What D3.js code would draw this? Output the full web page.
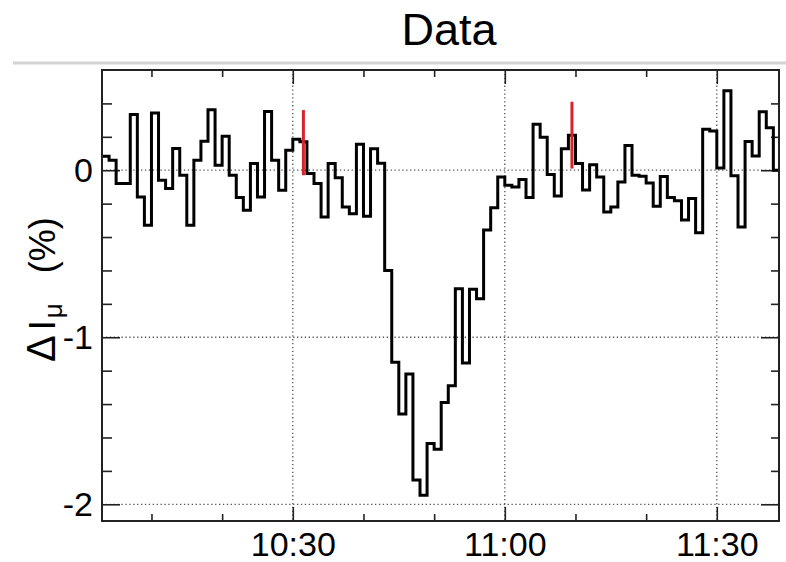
<!DOCTYPE html>
<html>
<head>
<meta charset="utf-8">
<script src="https://cdn.jsdelivr.net/npm/d3@7"></script>
<style>
  body { margin: 0; background: #fff; }
  text { font-family: "Liberation Sans", Arial, Helvetica, sans-serif; }
</style>
</head>
<body>
<div class="chart"></div>
<script>
// one-minute bins (start time of each bin) and the relative change in %
var times = [
  '10:03','10:04','10:05','10:06','10:07','10:08','10:09','10:10','10:11','10:12',
  '10:13','10:14','10:15','10:16','10:17','10:18','10:19','10:20','10:21','10:22',
  '10:23','10:24','10:25','10:26','10:27','10:28','10:29','10:30','10:31','10:32',
  '10:33','10:34','10:35','10:36','10:37','10:38','10:39','10:40','10:41','10:42',
  '10:43','10:44','10:45','10:46','10:47','10:48','10:49','10:50','10:51','10:52',
  '10:53','10:54','10:55','10:56','10:57','10:58','10:59','11:00','11:01','11:02',
  '11:03','11:04','11:05','11:06','11:07','11:08','11:09','11:10','11:11','11:12',
  '11:13','11:14','11:15','11:16','11:17','11:18','11:19','11:20','11:21','11:22',
  '11:23','11:24','11:25','11:26','11:27','11:28','11:29','11:30','11:31','11:32',
  '11:33','11:34','11:35','11:36','11:37','11:38'
];
var values = [
  0.084, 0.06, -0.08, -0.08, 0.334, -0.16, -0.33, 0.342, -0.06, -0.11,
  0.13, -0.03, -0.33, 0.06, 0.173, 0.362, 0.03, 0.203, -0.03, -0.163,
  -0.239, 0.04, -0.16, 0.352, 0.06, -0.12, 0.12, 0.185, 0.17, -0.02,
  -0.08, -0.28, 0.04, -0.045, -0.22, -0.26, 0.155, -0.275, 0.128, 0.042,
  -0.60, -1.15, -1.46, -1.22, -1.855, -1.946, -1.636, -1.67, -1.39, -1.29,
  -0.71, -1.154, -0.712, -0.77, -0.358, -0.225, -0.04, -0.09, -0.1, -0.056,
  -0.163, 0.275, 0.198, -0.025, -0.155, 0.128, 0.21, 0.04, -0.118, 0.033,
  -0.04, -0.25, -0.22, -0.07, 0.148, -0.03, -0.036, -0.076, -0.215, -0.038,
  -0.163, -0.183, -0.298, -0.17, -0.374, 0.245, 0.235, 0.013, 0.476, -0.033,
  -0.34, 0.172, 0.085, 0.35, 0.254, 0.0
];
var lastBinEnd = '11:39';

// red event markers
var markerTimes = ['10:31:30', '11:09:30'];
var markerTop = [0.36, 0.41];
var markerBottom = [-0.03, 0.01];

// axes
var xDomain = ['10:03:00', '11:38:48'];
var yDomain = [-2.1, 0.6];
var xMajor = ['10:30', '11:00', '11:30'];
var xMinor = ['10:10', '10:20', '10:40', '10:50', '11:10', '11:20'];
var yMajor = [-2, -1, 0];
var yMinor = [-1.8, -1.6, -1.4, -1.2, -0.8, -0.6, -0.4, -0.2, 0.2, 0.4];

var title = 'Data';

var W = 786, H = 562,
  plot = { left: 102, right: 779, top: 70, bottom: 521 };

var parseT = function(s) {
  return d3.timeParse(s.length > 5 ? '%H:%M:%S' : '%H:%M')(s);
};
var fmt = d3.timeFormat('%H:%M');

var svg = d3.select('.chart')
  .append('svg')
    .attr('width', W)
    .attr('height', H);

var x = d3.scaleTime()
  .domain(xDomain.map(parseT))
  .range([plot.left, plot.right]);

var y = d3.scaleLinear()
  .domain(yDomain)
  .range([plot.bottom, plot.top]);

// title and the grey rule under it
svg.append('text')
  .attr('x', 449)
  .attr('y', 45)
  .attr('text-anchor', 'middle')
  .style('font-size', '45px')
  .text(title);

svg.append('line')
  .attr('x1', 13).attr('x2', W)
  .attr('y1', 63).attr('y2', 63)
  .style('stroke', '#d4d4d4')
  .style('stroke-width', 3);

svg.append('clipPath')
    .attr('id', 'clip')
  .append('rect')
    .attr('x', plot.left)
    .attr('y', plot.top)
    .attr('width', plot.right - plot.left)
    .attr('height', plot.bottom - plot.top);

// dotted grid
var grid = svg.append('g').attr('class', 'grid')
  .style('stroke', '#555')
  .style('stroke-width', 1.3)
  .style('stroke-dasharray', '1.3,2.6');

grid.selectAll('.gx')
  .data(xMajor.map(parseT))
  .enter()
  .append('line')
    .attr('x1', d => x(d)).attr('x2', d => x(d))
    .attr('y1', plot.top).attr('y2', plot.bottom);

grid.selectAll('.gy')
  .data(yMajor)
  .enter()
  .append('line')
    .attr('x1', plot.left).attr('x2', plot.right)
    .attr('y1', d => y(d)).attr('y2', d => y(d));

// ticks, all pointing inward
function styleAxis(g) {
  g.select('.domain').remove();
  g.selectAll('.tick line').style('stroke', '#222').style('stroke-width', 1.6);
  g.selectAll('.tick text')
    .style('font-size', '34px')
    .style('fill', '#000');
}

svg.append('g')
  .attr('transform', `translate(0, ${plot.bottom})`)
  .call(d3.axisBottom(x).tickValues(xMinor.map(parseT)).tickSize(-7).tickFormat(''))
  .call(styleAxis);

svg.append('g')
  .attr('transform', `translate(0, ${plot.bottom})`)
  .call(d3.axisBottom(x).tickValues(xMajor.map(parseT)).tickSize(-14).tickPadding(11).tickFormat(fmt))
  .call(styleAxis);

svg.append('g')
  .attr('transform', `translate(0, ${plot.top})`)
  .call(d3.axisTop(x).tickValues(xMinor.map(parseT)).tickSize(-7).tickFormat(''))
  .call(styleAxis);

svg.append('g')
  .attr('transform', `translate(0, ${plot.top})`)
  .call(d3.axisTop(x).tickValues(xMajor.map(parseT)).tickSize(-14).tickFormat(''))
  .call(styleAxis);

svg.append('g')
  .attr('transform', `translate(${plot.left}, 0)`)
  .call(d3.axisLeft(y).tickValues(yMinor).tickSize(-10).tickFormat(''))
  .call(styleAxis);

svg.append('g')
  .attr('transform', `translate(${plot.left}, 0)`)
  .call(d3.axisLeft(y).tickValues(yMajor).tickSize(-18).tickPadding(9).tickFormat(d => String(d)))
  .call(styleAxis);

svg.append('g')
  .attr('transform', `translate(${plot.right}, 0)`)
  .call(d3.axisRight(y).tickValues(yMinor).tickSize(-8).tickFormat(''))
  .call(styleAxis);

svg.append('g')
  .attr('transform', `translate(${plot.right}, 0)`)
  .call(d3.axisRight(y).tickValues(yMajor).tickSize(-18).tickFormat(''))
  .call(styleAxis);

// step histogram
var data = times.map((t, i) => ({ t: parseT(t), v: values[i] }));
data.push({ t: parseT(lastBinEnd), v: values[values.length - 1] });

var line = d3.line()
  .x(d => x(d.t))
  .y(d => y(d.v))
  .curve(d3.curveStepAfter);

svg.append('path')
  .datum(data)
  .attr('clip-path', 'url(#clip)')
  .attr('d', line)
  .style('fill', 'none')
  .style('stroke', '#000')
  .style('stroke-width', 3)
  .style('stroke-linejoin', 'miter');

// red markers
svg.selectAll('.marker')
  .data(markerTimes)
  .enter()
  .append('line')
    .attr('class', 'marker')
    .attr('x1', d => x(parseT(d))).attr('x2', d => x(parseT(d)))
    .attr('y1', (d, i) => y(markerTop[i]))
    .attr('y2', (d, i) => y(markerBottom[i]))
    .style('stroke', '#d8232a')
    .style('stroke-width', 3);

// frame
svg.append('rect')
  .attr('x', plot.left)
  .attr('y', plot.top)
  .attr('width', plot.right - plot.left)
  .attr('height', plot.bottom - plot.top)
  .style('fill', 'none')
  .style('stroke', '#222')
  .style('stroke-width', 2);

// y axis title: delta I sub mu (%)
var yt = svg.append('text')
  .attr('transform', 'translate(55, 362) rotate(-90)')
  .attr('text-anchor', 'start')
  .style('font-size', '36px');
yt.append('tspan').style('font-size', '40px').text('\u0394');
yt.append('tspan').attr('dx', 5).text('I');
yt.append('tspan').attr('dy', 7).attr('dx', 2).style('font-size', '26px').text('\u03bc');
yt.append('tspan').attr('dy', -7).attr('dx', 30).text('(%)');
</script>
</body>
</html>
